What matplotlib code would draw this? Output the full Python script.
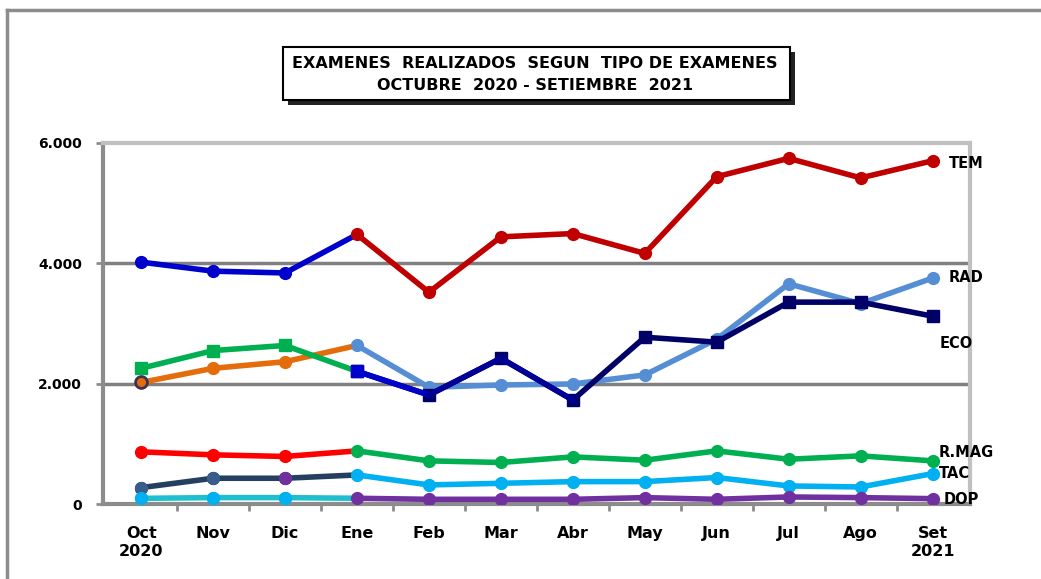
import matplotlib
matplotlib.use("Agg")
import matplotlib.pyplot as plt
from matplotlib.patches import Rectangle
from matplotlib.lines import Line2D

months = ["Oct\n2020", "Nov", "Dic", "Ene", "Feb", "Mar", "Abr", "May", "Jun", "Jul", "Ago", "Set\n2021"]
yticks = [0, 2000, 4000, 6000]
ytick_labels = ["0", "2.000", "4.000", "6.000"]

tem = [4020, 3870, 3840, 4480, 3520, 4440, 4495, 4165, 5440, 5745, 5420, 5705]
rad = [2020, 2255, 2365, 2635, 1940, 1978, 1995, 2145, 2740, 3660, 3330, 3755]
eco = [2255, 2550, 2635, 2205, 1812, 2422, 1728, 2772, 2690, 3355, 3355, 3122]
rmag = [867, 817, 790, 883, 717, 690, 783, 728, 883, 744, 800, 717]
tac = [272, 428, 428, 483, 317, 344, 372, 372, 440, 300, 283, 505]
dop = [94, 106, 106, 95, 78, 78, 78, 106, 78, 117, 106, 89]

names = ["TEM", "RAD", "ECO", "R.MAG", "TAC", "DOP"]
series = [tem, rad, eco, rmag, tac, dop]
col_first = ["#0000CC", "#E46C0A", "#00B050", "#FF0000", "#243F60", "#1FBFD0"]
col_second = ["#C00000", "#558ED5", "#000066", "#00B050", "#00B0F0", "#7030A0"]
markers = ["o", "o", "s", "o", "o", "o"]
label_pos = [(11.22, 5667), (11.22, 3767), (11.1, 2667), (11.09, 850), (11.09, 500), (11.16, 83)]

W, H = 1041, 579
fig = plt.figure(figsize=(W / 100, H / 100), dpi=100)
fig.patch.set_facecolor("white")

# outer frame (top + left lines)
fig.add_artist(Line2D([7 / W, 7 / W], [0, 1 - 10 / H], transform=fig.transFigure, color="#8c8c8c", lw=2.5))
fig.add_artist(Line2D([7 / W, 1], [1 - 10 / H, 1 - 10 / H], transform=fig.transFigure, color="#8c8c8c", lw=2.5))

ax = fig.add_axes([103 / W, (H - 504) / H, (970 - 103) / W, (504 - 143) / H])
x = list(range(len(months)))

for s, c1, c2, m in zip(series, col_first, col_second, markers):
    ax.plot(x[:4], s[:4], color=c1, lw=4, solid_capstyle="round", zorder=3)
    ax.plot(x[:3], s[:3], ls="none", marker=m, ms=8.5, color=c1, zorder=4)
    ax.plot(x[3:], s[3:], color=c2, lw=4, solid_capstyle="round", zorder=3,
            marker=m, ms=8.5, mfc=c2, mec=c2)

# a few special markers seen in the reference
ax.plot([0], [rad[0]], marker="o", ms=8.5, mfc="#E46C0A", mec="#403152", mew=2, ls="none", zorder=5)
ax.plot(x[:2], tac[:2], marker="o", ms=8.5, mfc="#385D8A", mec="#385D8A", ls="none", zorder=5)
ax.plot([2], [tac[2]], marker="o", ms=8.5, mfc="#7030A0", mec="#7030A0", ls="none", zorder=5)
ax.plot(x[:3], dop[:3], marker="o", ms=8.5, mfc="#00B0F0", mec="#00B0F0", ls="none", zorder=5)
ax.plot([3], [eco[3]], marker="s", ms=8.5, mfc="#0000CC", mec="#0000CC", ls="none", zorder=5)
ax.plot([3, 4], eco[3:5], color="#0000CC", lw=4, zorder=3)
ax.plot([4, 5, 6], eco[4:7], color="#000099", lw=4, zorder=3)

for n, (lx, ly) in zip(names, label_pos):
    ax.text(lx, ly, n, fontsize=10.5, fontweight="bold", ha="left", va="center", color="black", clip_on=False)

ax.set_xlim(-0.53, 11.52)
ax.set_ylim(0, 6000)
ax.set_yticks(yticks)
ax.set_yticklabels(ytick_labels, fontsize=10, fontweight="bold")
ax.set_xticks(x)
ax.set_xticklabels(months, fontsize=11.5, fontweight="bold", linespacing=1.25)
ax.set_xticks([i - 0.5 for i in range(1, 12)], minor=True)
ax.tick_params(axis="x", which="major", length=0, pad=16)
ax.tick_params(axis="x", which="minor", length=5, width=2, color="#8c8c8c", direction="out")
ax.tick_params(axis="y", length=5, width=2, color="#8c8c8c", direction="out", pad=10)

for y in [2000, 4000]:
    ax.axhline(y, color="#808080", lw=2.5, zorder=1)
ax.spines["left"].set_color("#8c8c8c")
ax.spines["left"].set_linewidth(3)
ax.spines["bottom"].set_color("#8c8c8c")
ax.spines["bottom"].set_linewidth(3)
ax.spines["top"].set_color("#c0c0c0")
ax.spines["top"].set_linewidth(3)
ax.spines["right"].set_color("#c0c0c0")
ax.spines["right"].set_linewidth(3)

# title box with shadow
fig.add_artist(Rectangle((288 / W, 1 - 105 / H), (790 - 283) / W, (100 - 47) / H,
                         transform=fig.transFigure, facecolor="#222222", edgecolor="none", zorder=5))
fig.add_artist(Rectangle((283 / W, 1 - 100 / H), (790 - 283) / W, (100 - 47) / H,
                         transform=fig.transFigure, facecolor="white", edgecolor="black", lw=1.5, zorder=6))
fig.text(535 / W, 1 - 64 / H, "EXAMENES  REALIZADOS  SEGUN  TIPO DE EXAMENES",
         ha="center", va="center", fontsize=11.5, fontweight="bold", zorder=7)
fig.text(535 / W, 1 - 86 / H, "OCTUBRE  2020 - SETIEMBRE  2021",
         ha="center", va="center", fontsize=11.5, fontweight="bold", zorder=7)

fig.savefig("out.png", dpi=100)
